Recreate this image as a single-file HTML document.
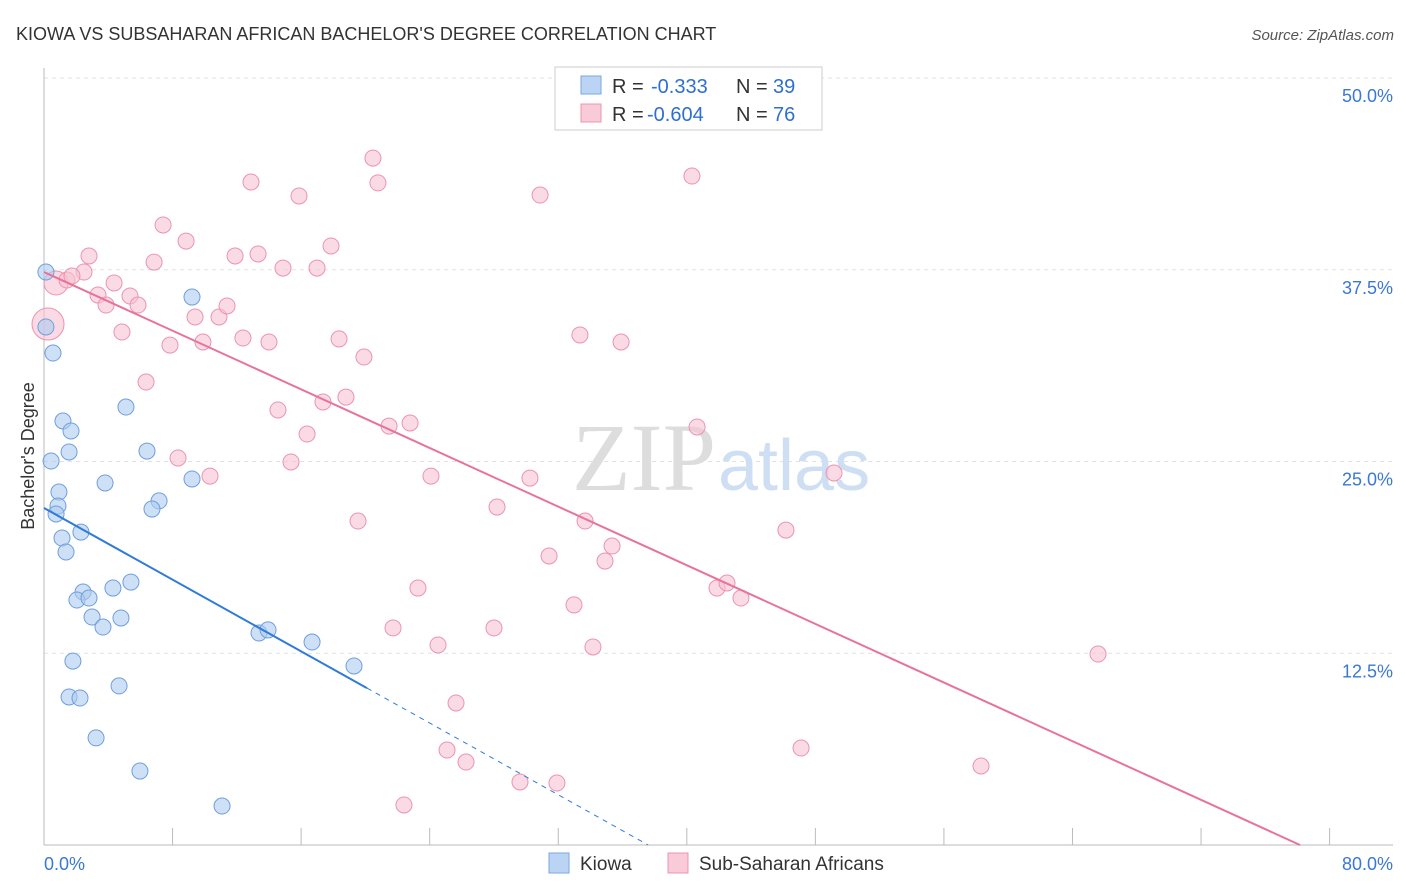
<!DOCTYPE html>
<html><head><meta charset="utf-8"><style>
body{margin:0;background:#fff;font-family:"Liberation Sans",sans-serif;}
svg{display:block}
</style></head><body>
<svg id="chart" width="1406" height="892">
<text x="16" y="40" font-size="18" fill="#333">KIOWA VS SUBSAHARAN AFRICAN BACHELOR'S DEGREE CORRELATION CHART</text>
<text x="1394" y="40" font-size="15" fill="#555" text-anchor="end" font-style="italic">Source: ZipAtlas.com</text>
<text x="34" y="456" font-size="18" fill="#333" text-anchor="middle" transform="rotate(-90 34 456)">Bachelor's Degree</text>
<g id="grid"></g>
<g id="axes"></g>
<text x="716" y="490" font-size="96" fill="#ddd" text-anchor="end" font-family="Liberation Serif">ZIP</text>
<text x="718" y="490" font-size="72" fill="#cfdff3">atlas</text>
<g id="marks"></g>
<g>
<rect x="555" y="67" width="267" height="63" fill="#fff" stroke="#ccc"/>
<rect x="581" y="76" width="20" height="18" fill="#bcd4f4" stroke="#7aa7e0"/>
<rect x="581" y="104" width="20" height="18" fill="#f9cad8" stroke="#ec94b0"/>
<text x="612" y="93" font-size="20" fill="#333">R =</text>
<text x="651" y="93" font-size="20" fill="#2f6fd0">-0.333</text>
<text x="736" y="93" font-size="20" fill="#333">N =</text>
<text x="773" y="93" font-size="20" fill="#2f6fd0">39</text>
<text x="612" y="121" font-size="20" fill="#333">R =</text>
<text x="647" y="121" font-size="20" fill="#2f6fd0">-0.604</text>
<text x="736" y="121" font-size="20" fill="#333">N =</text>
<text x="773" y="121" font-size="20" fill="#2f6fd0">76</text>
</g>
<g>
<rect x="549" y="853" width="20" height="20" fill="#bcd4f4" stroke="#7aa7e0"/>
<text x="580" y="870" font-size="19" fill="#333">Kiowa</text>
<rect x="668" y="853" width="20" height="20" fill="#f9cad8" stroke="#ec94b0"/>
<text x="699" y="870" font-size="19" fill="#333">Sub-Saharan Africans</text>
</g>
</svg>
<script>
const yTicks=[12.5,25,37.5,50];
const yTickLabels=["12.5%","25.0%","37.5%","50.0%"];
const xTickCount=10;
const xLabels=["0.0%","80.0%"];
const kiowaX=[0.12,0.12,0.56,5.10,1.18,1.68,1.56,6.41,0.44,3.80,9.21,9.21,0.93,0.87,0.75,7.16,6.72,2.30,1.12,1.37,5.41,4.29,2.43,2.05,2.80,2.99,4.79,3.67,13.38,13.94,16.68,1.80,19.29,4.67,1.56,2.24,3.24,5.97,11.08];
const kiowaY=[37.35,33.77,32.07,28.55,27.64,26.99,25.62,25.68,25.03,23.60,23.86,35.72,23.01,22.10,21.58,22.43,21.90,20.40,20.01,19.10,17.14,16.75,16.49,15.97,16.10,14.86,14.80,14.21,13.82,14.02,13.23,11.99,11.67,10.37,9.65,9.58,6.98,4.82,2.54];
const afrX=[0.25,0.75,1.43,2.49,1.74,2.80,4.36,3.36,5.35,3.86,5.85,4.85,6.85,7.41,8.84,6.35,7.84,9.40,10.89,11.39,9.89,8.34,10.33,12.88,11.89,13.32,14.87,15.87,16.99,17.86,20.47,20.78,12.38,14.00,18.36,19.91,14.56,16.37,15.37,18.79,17.36,21.47,22.78,19.54,24.08,28.19,30.24,30.87,33.35,35.91,40.32,40.64,49.16,46.17,33.67,35.35,34.91,31.43,23.27,32.98,21.72,24.52,28.00,34.16,41.88,42.50,43.37,25.64,25.08,26.26,22.40,29.62,31.92,47.11,58.31,65.59];
const afrY=[33.96,36.64,36.83,37.35,37.09,38.40,36.64,35.85,35.79,35.20,35.20,33.44,38.00,40.42,39.37,30.18,32.59,34.42,34.42,35.14,32.79,25.23,24.05,43.22,38.40,38.53,37.61,42.31,37.61,39.05,44.78,43.16,33.05,32.79,32.99,31.81,28.36,26.79,24.97,29.20,28.88,27.31,27.51,21.12,24.05,22.03,23.92,42.37,33.25,32.79,43.61,27.25,24.25,20.53,21.12,19.49,18.51,18.84,16.75,15.65,14.15,13.04,14.15,12.91,16.75,17.08,16.10,9.26,6.19,5.41,2.61,4.11,4.04,6.32,5.15,12.45];
const afrR=[16,12];
const kiowaTrend=[[0,21.97],[20.10,10.23],[37.6,0]];
const afrTrend=[[0,37.35],[78.16,0]];
const NS="http://www.w3.org/2000/svg";
const X0=44,XS=16.07,Y0=845,YS=15.34;
const sx=v=>X0+v*XS, sy=v=>Y0-v*YS;
function mk(tag,attrs,parent){const e=document.createElementNS(NS,tag);for(const k in attrs)e.setAttribute(k,attrs[k]);parent.appendChild(e);return e;}
const gridG=document.getElementById('grid'),axesG=document.getElementById('axes'),marksG=document.getElementById('marks');
const topLine=mk('line',{x1:44,x2:1393,y1:sy(50),y2:sy(50),stroke:'#ddd','stroke-dasharray':'4,4'},gridG);


yTicks.forEach((t,i)=>{
 const l=mk('line',{x1:44,x2:1393,y1:sy(t),y2:sy(t),stroke:'#e2e2e2','stroke-dasharray':'4,4'},gridG);
 
 
 const tx=mk('text',{x:1393,y:sy(t)+24,'font-size':18,fill:'#3a78d4','text-anchor':'end'},axesG);
 tx.textContent=yTickLabels[i];
 
 
});
const yAxisLine=mk('line',{x1:44,x2:44,y1:68,y2:845,stroke:'#bbb'},axesG);


const xAxisLine=mk('line',{x1:44,x2:1393,y1:845,y2:845,stroke:'#bbb'},axesG);


for(let k=1;k<=xTickCount;k++){
 const x=sx(k*80/xTickCount);
 const t=mk('line',{x1:x,x2:x,y1:828,y2:845,stroke:'#bbb'},axesG);
 
 
}
const xl0=mk('text',{x:44,y:870,'font-size':18,fill:'#3a78d4'},axesG);xl0.textContent=xLabels[0];


const xl1=mk('text',{x:1393,y:870,'font-size':18,fill:'#3a78d4','text-anchor':'end'},axesG);xl1.textContent=xLabels[1];


afrX.forEach((v,i)=>{
 const c=mk('circle',{cx:sx(v),cy:sy(afrY[i]),r:afrR[i]||8,fill:'#f7c2d2','fill-opacity':0.6,stroke:'#ec94b0','stroke-width':1},marksG);
 
 
});
kiowaX.forEach((v,i)=>{
 const c=mk('circle',{cx:sx(v),cy:sy(kiowaY[i]),r:8,fill:'#aecbf0','fill-opacity':0.6,stroke:'#6f9fdc','stroke-width':1},marksG);
 
 
});
const pl=mk('line',{x1:sx(afrTrend[0][0]),y1:sy(afrTrend[0][1]),x2:sx(afrTrend[1][0]),y2:sy(afrTrend[1][1]),stroke:'#e8739a','stroke-width':2},marksG);


const bl=mk('line',{x1:sx(kiowaTrend[0][0]),y1:sy(kiowaTrend[0][1]),x2:sx(kiowaTrend[1][0]),y2:sy(kiowaTrend[1][1]),stroke:'#2f7bd8','stroke-width':2},marksG);


const bd=mk('line',{x1:sx(kiowaTrend[1][0]),y1:sy(kiowaTrend[1][1]),x2:sx(kiowaTrend[2][0]),y2:sy(kiowaTrend[2][1]),stroke:'#2f7bd8','stroke-width':1,'stroke-dasharray':'5,5'},marksG);


</script>
</body></html>
